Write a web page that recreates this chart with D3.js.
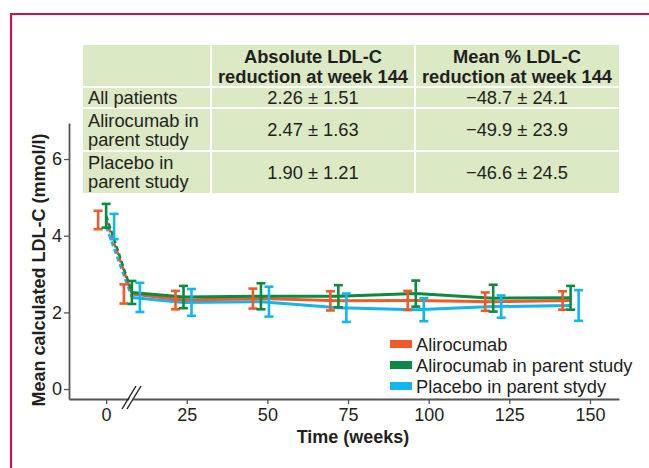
<!DOCTYPE html>
<html><head><meta charset="utf-8">
<script src="https://cdn.jsdelivr.net/npm/d3@7"></script>
<style>
html,body{margin:0;padding:0;background:#fff;}
svg{display:block;font-family:"Liberation Sans",Arial,Helvetica,sans-serif;}
</style></head>
<body><svg id="c" width="649" height="468"></svg>
<script>
// ---- data ----
const weeks = [0, 8, 24, 48, 72, 96, 120, 144];
const seriesNames = ["Alirocumab", "Alirocumab in parent study", "Placebo in parent stydy"];
const alirocumabMean = [4.41, 2.48, 2.32, 2.36, 2.30, 2.31, 2.28, 2.31];
const alirocumabErr  = [0.24, 0.25, 0.24, 0.26, 0.25, 0.25, 0.24, 0.24];
const aliParentMean  = [4.52, 2.52, 2.40, 2.42, 2.42, 2.49, 2.37, 2.38];
const aliParentErr   = [0.31, 0.30, 0.29, 0.34, 0.29, 0.34, 0.35, 0.31];
const placeboMean    = [4.24, 2.39, 2.26, 2.28, 2.12, 2.07, 2.15, 2.18];
const placeboErr     = [0.33, 0.38, 0.35, 0.39, 0.37, 0.30, 0.29, 0.40];
const xTicks = [0, 25, 50, 75, 100, 125, 150];
const yTicks = [0, 2, 4, 6];
const tableHeader = [["Absolute LDL-C", "reduction at week 144"], ["Mean % LDL-C", "reduction at week 144"]];
const tableRowLabels = [["All patients"], ["Alirocumab in", "parent study"], ["Placebo in", "parent study"]];
const tableAbs = ["2.26 \u00b1 1.51", "2.47 \u00b1 1.63", "1.90 \u00b1 1.21"];
const tablePct = ["\u221248.7 \u00b1 24.1", "\u221249.9 \u00b1 23.9", "\u221246.6 \u00b1 24.5"];

const colors = ["#f05a28", "#0b8a45", "#12b6ee"];
const series = [
  {name: seriesNames[0], mean: alirocumabMean, err: alirocumabErr, color: colors[0], dx: -8},
  {name: seriesNames[1], mean: aliParentMean, err: aliParentErr, color: colors[1], dx: 0},
  {name: seriesNames[2], mean: placeboMean, err: placeboErr, color: colors[2], dx: 8}
];

const svg = d3.select("#c");
const ink = "#231f20";

// frame border
svg.append("path").attr("d", "M11,468 V14 H649").attr("fill", "none")
  .attr("stroke", "#c8144a").attr("stroke-width", 2.2);

// scales
const x = d3.scaleLinear().domain([-11.5, 159]).range([69, 619]);
const y = d3.scaleLinear().domain([-0.26, 6.94]).range([399, 123]);

// table
const tbl = svg.append("g");
const colX = [83, 211, 415, 619];
const rowY = [45, 87, 108, 151, 193];
tbl.append("rect").attr("x", colX[0]).attr("y", rowY[0]).attr("width", colX[3] - colX[0])
  .attr("height", rowY[4] - rowY[0]).attr("fill", "#dbe9c4");
[colX[1], colX[2]].forEach(cx => tbl.append("line").attr("x1", cx).attr("x2", cx)
  .attr("y1", rowY[0]).attr("y2", rowY[4]).attr("stroke", "#fff").attr("stroke-width", 2));
[rowY[1], rowY[2], rowY[3]].forEach(ry => tbl.append("line").attr("x1", colX[0]).attr("x2", colX[3])
  .attr("y1", ry).attr("y2", ry).attr("stroke", "#fff").attr("stroke-width", 2));
tableHeader.forEach((lines, i) => {
  const cx = (colX[i + 1] + colX[i + 2]) / 2;
  lines.forEach((t, j) => tbl.append("text").attr("x", cx).attr("y", 63 + j * 20)
    .attr("text-anchor", "middle").attr("font-size", 18.3).attr("font-weight", "bold")
    .attr("fill", ink).text(t));
});
const rowBase = [[104], [127, 146], [169, 188]];
tableRowLabels.forEach((lines, i) => {
  lines.forEach((t, j) => tbl.append("text").attr("x", 88).attr("y", rowBase[i][j])
    .attr("font-size", 18.3).attr("fill", ink).text(t));
  const mid = (rowY[i + 1] + rowY[i + 2]) / 2 + 6.5;
  tbl.append("text").attr("x", (colX[1] + colX[2]) / 2).attr("y", mid).attr("text-anchor", "middle")
    .attr("font-size", 18.3).attr("fill", ink).text(tableAbs[i]);
  tbl.append("text").attr("x", (colX[2] + colX[3]) / 2).attr("y", mid).attr("text-anchor", "middle")
    .attr("font-size", 18.3).attr("fill", ink).text(tablePct[i]);
});

// axes
const axisColor = "#555";
const gx = svg.append("g").attr("transform", "translate(0,399)")
  .call(d3.axisBottom(x).tickValues(xTicks).tickSize(5).tickSizeOuter(0).tickPadding(4));
const gy = svg.append("g").attr("transform", "translate(69,0)")
  .call(d3.axisLeft(y).tickValues(yTicks).tickSize(5).tickSizeOuter(0).tickPadding(2));
[gx, gy].forEach(g => {
  g.select(".domain").attr("stroke", axisColor).attr("stroke-width", 1.8);
  g.selectAll(".tick line").attr("stroke", axisColor).attr("stroke-width", 1.3);
  g.selectAll(".tick text").attr("font-size", 18).attr("fill", ink)
    .attr("font-family", "'Liberation Sans',Arial,sans-serif");
});

// axis break
const brk = svg.append("g");
brk.append("polygon").attr("points", "124,409 137,386 141,386 128,409").attr("fill", "#fff");
brk.append("line").attr("x1", 122).attr("y1", 409).attr("x2", 136).attr("y2", 386)
  .attr("stroke", ink).attr("stroke-width", 1.4);
brk.append("line").attr("x1", 127).attr("y1", 409).attr("x2", 141).attr("y2", 386)
  .attr("stroke", ink).attr("stroke-width", 1.4);

// axis titles
svg.append("text").attr("x", 353).attr("y", 443).attr("text-anchor", "middle")
  .attr("font-size", 18).attr("font-weight", "bold").attr("fill", ink).text("Time (weeks)");
svg.append("text").attr("transform", "translate(45,270) rotate(-90)").attr("text-anchor", "middle")
  .attr("font-size", 18).attr("font-weight", "bold").attr("fill", ink)
  .text("Mean calculated LDL-C (mmol/l)");

// lines
const line = d3.line().x(d => x(d[0])).y(d => y(d[1]));
const drawOrder = [2, 0, 1];
drawOrder.forEach(si => {
  const s = series[si];
  const pts = weeks.map((w, i) => [w, s.mean[i]]);
  svg.append("path").attr("d", line(pts.slice(0, 2))).attr("fill", "none")
    .attr("stroke", s.color).attr("stroke-width", 2.6).attr("stroke-dasharray", "5,3");
  svg.append("path").attr("d", line(pts.slice(1))).attr("fill", "none")
    .attr("stroke", s.color).attr("stroke-width", 3);
});

// error bars
series.forEach(s => {
  const g = svg.append("g").attr("stroke", s.color).attr("stroke-width", 2.6).attr("fill", "none");
  weeks.forEach((w, i) => {
    const cx = x(w) + s.dx;
    const y1 = y(s.mean[i] + s.err[i]), y2 = y(s.mean[i] - s.err[i]);
    g.append("line").attr("x1", cx).attr("x2", cx).attr("y1", y1).attr("y2", y2);
    g.append("line").attr("x1", cx - 4.5).attr("x2", cx + 4.5).attr("y1", y1).attr("y2", y1);
    g.append("line").attr("x1", cx - 4.5).attr("x2", cx + 4.5).attr("y1", y2).attr("y2", y2);
  });
});

// legend
const lg = svg.append("g");
series.forEach((s, i) => {
  const ly = 344 + i * 21;
  lg.append("rect").attr("x", 390).attr("y", ly - 4).attr("width", 22).attr("height", 8).attr("fill", s.color);
  lg.append("text").attr("x", 416).attr("y", ly + 6.5).attr("font-size", 18.3).attr("fill", ink).text(s.name);
});
</script></body></html>
